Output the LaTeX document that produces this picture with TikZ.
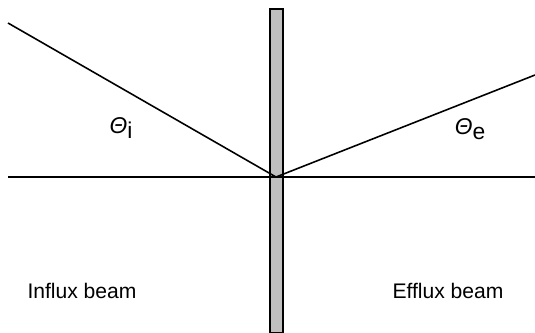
\documentclass[tikz,border=0pt]{standalone}
\usepackage{fontspec}
\setmainfont{Liberation Sans}
\usepackage{tikz}

\begin{document}
\begin{tikzpicture}[x=0.02cm,y=-0.02cm]
\tikzstyle{beam}=[line width=0.9pt,black]
\tikzstyle{slab}=[draw=black,fill=gray!50,line width=0.8pt,inner sep=0pt,minimum width=0.26cm,minimum height=6.48cm]
\tikzstyle{lbl}=[font=\fontsize{12}{14}\selectfont,inner sep=0pt]
\useasboundingbox (0,0) rectangle (535,332);
\foreach \name/\point in {
	pivot/{276,177},
	inleft/{8,23},
	axleft/{8,177},
	axright/{535,177},
	outright/{535,75}}
	\coordinate (\name) at (\point);
\node[slab] (plate) at (276.5,171) {};
\draw[beam] (axleft) -- (axright);
\draw[beam] (inleft) -- (pivot);
\draw[beam] (pivot) -- (outright);
\node[lbl,font=\fontsize{13}{15}\selectfont] (thetai) at (121,128) {\textit{Θ}\raisebox{-0.45ex}{i}};
\node[lbl,font=\fontsize{13}{15}\selectfont] (thetae) at (470,129) {\textit{Θ}\raisebox{-0.45ex}{e}};
\node[lbl] (influx) at (82,291) {Influx beam};
\node[lbl] (efflux) at (448,291) {Efflux beam};
\end{tikzpicture}
\end{document}
